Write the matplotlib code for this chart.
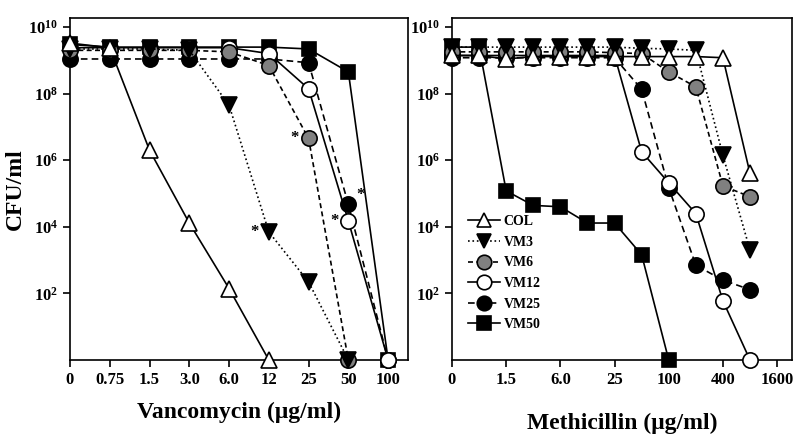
import numpy as np
import matplotlib
matplotlib.use('Agg')
import matplotlib.pyplot as plt

plt.rcParams['font.family'] = ['Liberation Serif', 'DejaVu Serif']
plt.rcParams['font.weight'] = 'bold'
plt.rcParams['mathtext.fontset'] = 'custom'
plt.rcParams['mathtext.bf'] = 'Liberation Serif:bold'
plt.rcParams['mathtext.rm'] = 'Liberation Serif:bold'

# vancomycin panel, concentrations in ug/ml
vanco_labels = ['0', '0.75', '1.5', '3.0', '6.0', '12', '25', '50', '100']
vanco_col = [3.3e9, 2.4e9, 2e6, 1.3e4, 1.4e2, 0]
vanco_vm3 = [2.2e9, 2.2e9, 2.2e9, 2.0e9, 4.5e7, 7e3, 2.2e2, 0]
vanco_vm6 = [2.0e9, 2.0e9, 2.0e9, 2.0e9, 1.8e9, 7e8, 4.5e6, 0]
vanco_vm12 = [2.4e9, 2.4e9, 2.4e9, 2.4e9, 2.4e9, 1.6e9, 1.4e8, 1.5e4, 0]
vanco_vm25 = [1.1e9, 1.1e9, 1.1e9, 1.1e9, 1.1e9, 1.1e9, 8.5e8, 4.7e4, 0]
vanco_vm50 = [3.0e9, 2.5e9, 2.5e9, 2.5e9, 2.5e9, 2.5e9, 2.2e9, 4.5e8, 0]

# methicillin panel
meth_ticks = ['0', '1.5', '6.0', '25', '100', '400', '1600']
meth_conc = ['0', '0.75', '1.5', '3.0', '6.0', '12', '25', '50', '100', '200', '400', '800']
meth_col = [1.4e9, 1.4e9, 1.1e9, 1.3e9, 1.3e9, 1.3e9, 1.3e9, 1.3e9, 1.3e9, 1.3e9, 1.2e9, 4e5]
meth_vm3 = [2.5e9, 2.5e9, 2.5e9, 2.5e9, 2.5e9, 2.5e9, 2.5e9, 2.3e9, 2.2e9, 2.0e9, 1.4e6, 2e3]
meth_vm6 = [1.8e9, 1.8e9, 1.8e9, 1.8e9, 1.8e9, 1.8e9, 1.7e9, 1.6e9, 4.5e8, 1.6e8, 1.7e5, 8e4]
meth_vm12 = [1.4e9, 1.4e9, 1.4e9, 1.4e9, 1.4e9, 1.4e9, 1.4e9, 1.8e6, 2.1e5, 2.5e4, 60, 0]
meth_vm25 = [1.2e9, 1.2e9, 1.2e9, 1.2e9, 1.2e9, 1.2e9, 1.2e9, 1.35e8, 1.5e5, 7e2, 2.5e2, 1.3e2]
meth_vm50 = [2.5e9, 2.5e9, 1.2e5, 4.4e4, 4e4, 1.3e4, 1.3e4, 1.45e3, 0]

styles = {
    'COL': dict(marker='^', mfc='white', mec='black', ls='-', ms=11),
    'VM3': dict(marker='v', mfc='black', mec='black', ls=':', ms=11),
    'VM6': dict(marker='o', mfc='#808080', mec='black', ls=(0, (3, 2)), ms=11),
    'VM12': dict(marker='o', mfc='white', mec='black', ls='-', ms=11),
    'VM25': dict(marker='o', mfc='black', mec='black', ls=(0, (4, 2.5)), ms=11),
    'VM50': dict(marker='s', mfc='black', mec='black', ls='-', ms=10),
}

vanco = {'COL': vanco_col, 'VM3': vanco_vm3, 'VM6': vanco_vm6,
         'VM12': vanco_vm12, 'VM25': vanco_vm25, 'VM50': vanco_vm50}
meth = {'COL': meth_col, 'VM3': meth_vm3, 'VM6': meth_vm6,
        'VM12': meth_vm12, 'VM25': meth_vm25, 'VM50': meth_vm50}

# asterisks: (series, index, side)
vanco_stars = [('VM3', 5, 'left'), ('VM6', 6, 'left'), ('VM12', 7, 'left'), ('VM25', 7, 'right')]

FLOOR = 1.0
YTOP = 10 ** 10.27

fig = plt.figure(figsize=(8, 4.41), dpi=100)
ax1 = fig.add_axes([0.0875, 0.1837, 0.4225, 0.7753])
ax2 = fig.add_axes([0.565, 0.1837, 0.425, 0.7753])

draw_order = ['VM50', 'VM25', 'VM12', 'VM6', 'VM3', 'COL']


def draw(ax, data):
    for name in draw_order:
        vals = np.array(data[name], dtype=float)
        vals = np.where(vals <= 0, FLOOR, vals)
        x = np.arange(len(vals))
        st = styles[name]
        ax.plot(x, vals, color='black', lw=1.2, ls=st['ls'], marker=st['marker'],
                ms=st['ms'], mfc=st['mfc'], mec=st['mec'], mew=1.2,
                clip_on=False, zorder=3, label=name)


def style_axis(ax):
    ax.set_yscale('log')
    ax.set_ylim(FLOOR, YTOP)
    ax.set_yticks([1e2, 1e4, 1e6, 1e8, 1e10])
    ax.set_yticklabels([r'$\mathbf{10^{%d}}$' % e for e in (2, 4, 6, 8, 10)])
    ax.minorticks_off()
    ax.tick_params(axis='both', direction='out', length=5, width=1.2, labelsize=12)
    for s in ax.spines.values():
        s.set_linewidth(1.2)


draw(ax1, vanco)
style_axis(ax1)
ax1.set_xlim(0, 8.5)
ax1.set_xticks(range(len(vanco_labels)))
ax1.set_xticklabels(vanco_labels)
ax1.set_xlabel('Vancomycin (\u03bcg/ml)', fontsize=17, fontweight='bold', labelpad=10)
ax1.set_ylabel('CFU/ml', fontsize=17, fontweight='bold', labelpad=2)

for name, i, side in vanco_stars:
    v = vanco[name][i]
    dx = -10 if side == 'left' else 9
    dy = 0 if side == 'left' else 7
    ax1.annotate('*', (i, v), xytext=(dx, dy), textcoords='offset points',
                 ha='center', va='center', fontsize=12, fontweight='bold')

draw(ax2, meth)
style_axis(ax2)
ax2.set_xlim(0, 12.55)
ax2.set_xticks(range(0, 13, 2))
ax2.set_xticklabels(meth_ticks)
ax2.set_xlabel('Methicillin (\u03bcg/ml)', fontsize=17, fontweight='bold', labelpad=18)

handles, labels = ax2.get_legend_handles_labels()
order = [labels.index(n) for n in ['COL', 'VM3', 'VM6', 'VM12', 'VM25', 'VM50']]
ax2.legend([handles[k] for k in order], [labels[k] for k in order],
           loc='upper left', bbox_to_anchor=(0.03, 0.44), frameon=False,
           fontsize=10, handlelength=2.3, handletextpad=0.3, labelspacing=0.55,
           markerscale=0.95, borderaxespad=0)

fig.savefig('out.png', dpi=100)
